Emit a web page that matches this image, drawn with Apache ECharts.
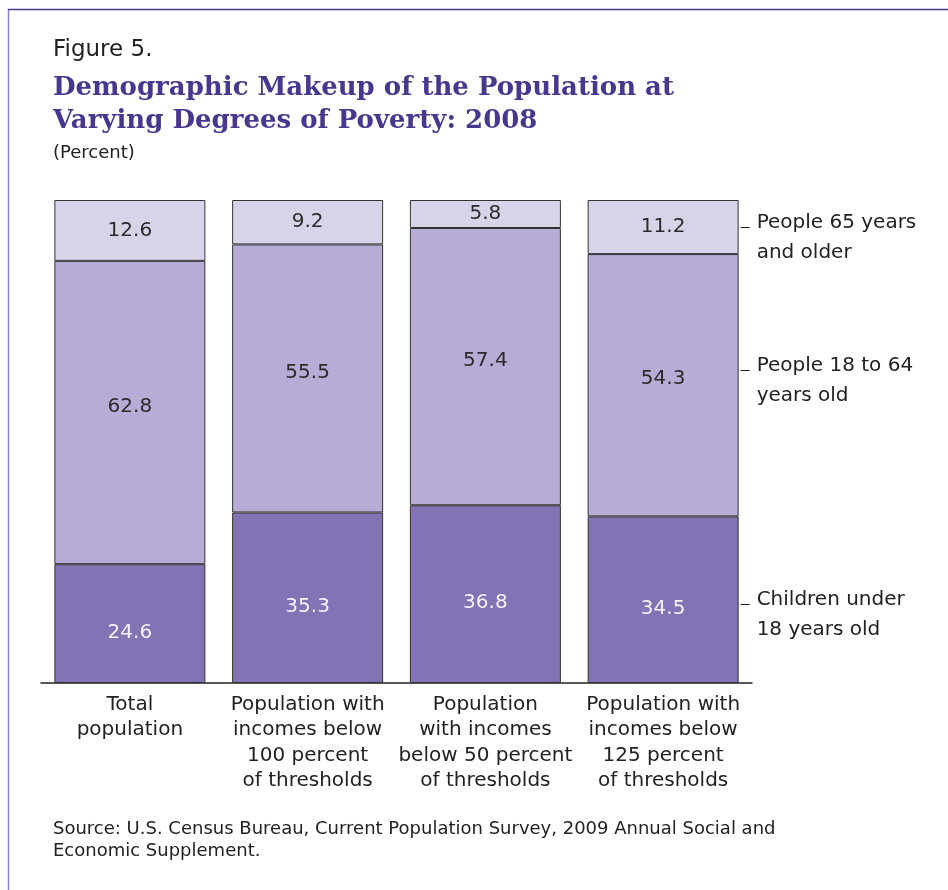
<!DOCTYPE html>
<html><head><meta charset="utf-8">
<script src="https://cdn.jsdelivr.net/npm/echarts@6/dist/echarts.min.js"></script>
<style>html,body{margin:0;padding:0;background:#fff}#c{width:948px;height:890px}</style>
</head><body><div id="c"></div>
<script>
const categories = ['Total\npopulation', 'Population with\nincomes below\n100 percent\nof thresholds', 'Population\nwith incomes\nbelow 50 percent\nof thresholds', 'Population with\nincomes below\n125 percent\nof thresholds'];
const children = [24.6, 35.3, 36.8, 34.5];
const adults = [62.8, 55.5, 57.4, 54.3];
const seniors = [12.6, 9.2, 5.8, 11.2];
const seriesNames = ['Children under\n18 years old', 'People 18 to 64\nyears old', 'People 65 years\nand older'];

const FONT = 'DejaVu Sans';
const chart = echarts.init(document.getElementById('c'), null, {renderer: 'canvas'});
const colors = ['#8372b4', '#b8acd6', '#d9d3ea'];
const labelColors = ['#f4f2fa', '#2b2b2b', '#2b2b2b'];
const labelOffsets = [[0, 9], [0, -6], [0, 0]];
const dataSets = [children, adults, seniors];

const option = {
  animation: false,
  backgroundColor: '#fff',
  title: [
    {text: 'Figure 5.', left: 53, top: 39, padding: 0, textStyle: {fontFamily: FONT, fontSize: 23, fontWeight: 'normal', color: '#222'}},
    {text: 'Demographic Makeup of the Population at\nVarying Degrees of Poverty: 2008', left: 53, top: 72, padding: 0,
     textStyle: {fontFamily: 'DejaVu Serif', fontSize: 26, fontWeight: 'bold', color: '#48368f', lineHeight: 33}},
    {text: '(Percent)', left: 53, top: 144, padding: 0, textStyle: {fontFamily: FONT, fontSize: 18, fontWeight: 'normal', color: '#222'}},
    {text: 'Source: U.S. Census Bureau, Current Population Survey, 2009 Annual Social and\nEconomic Supplement.', left: 53, top: 818, padding: 0,
     textStyle: {fontFamily: FONT, fontSize: 18, fontWeight: 'normal', color: '#222', lineHeight: 22}}
  ],
  grid: {left: 41, right: 196, top: 200, bottom: 207},
  xAxis: {
    type: 'category', data: categories,
    axisLine: {lineStyle: {color: '#222', width: 1.5}},
    axisTick: {show: false},
    axisLabel: {fontFamily: FONT, fontSize: 20, color: '#222', lineHeight: 25.5, margin: 9, interval: 0}
  },
  yAxis: {type: 'value', min: 0, max: 100, show: false},
  series: dataSets.map((d, i) => ({
    type: 'bar', name: seriesNames[i], stack: 'total', data: d, barWidth: 151,
    itemStyle: {color: colors[i], borderColor: '#333', borderWidth: 1},
    label: {show: true, position: 'inside', offset: labelOffsets[i], fontFamily: FONT, fontSize: 20, color: labelColors[i],
            formatter: p => p.value.toFixed(1)}
  }))
};
chart.setOption(option);

// Right-side series labels pointing at last bar's segments
const last = categories.length - 1;
const nudges = [4, -15, 0];
const graphics = [];
let cum = 0;
dataSets.forEach((d, i) => {
  const mid = cum + d[last] / 2;
  cum += d[last];
  const p = chart.convertToPixel({gridIndex: 0}, [last, mid]);
  const right = chart.convertToPixel({gridIndex: 0}, [last, 0])[0] + 151 / 2;
  const y = Math.round(p[1] + nudges[i]) + 0.5;
  graphics.push({type: 'line', shape: {x1: right + 2, y1: y, x2: right + 11, y2: y}, style: {stroke: '#222', lineWidth: 1}});
  graphics.push({type: 'text', x: right + 18, y: y - 20, style: {text: seriesNames[i], fontFamily: FONT, fontSize: 20, fill: '#222', lineHeight: 30, textVerticalAlign: 'top'}});
});
graphics.push({type: 'line', shape: {x1: 8.5, y1: 9, x2: 8.5, y2: 890}, style: {stroke: '#8e80c6', lineWidth: 1.5}});
graphics.push({type: 'line', shape: {x1: 8, y1: 9.5, x2: 948, y2: 9.5}, style: {stroke: '#4b3b8f', lineWidth: 1.5}});
chart.setOption({graphic: graphics});
</script></body></html>
